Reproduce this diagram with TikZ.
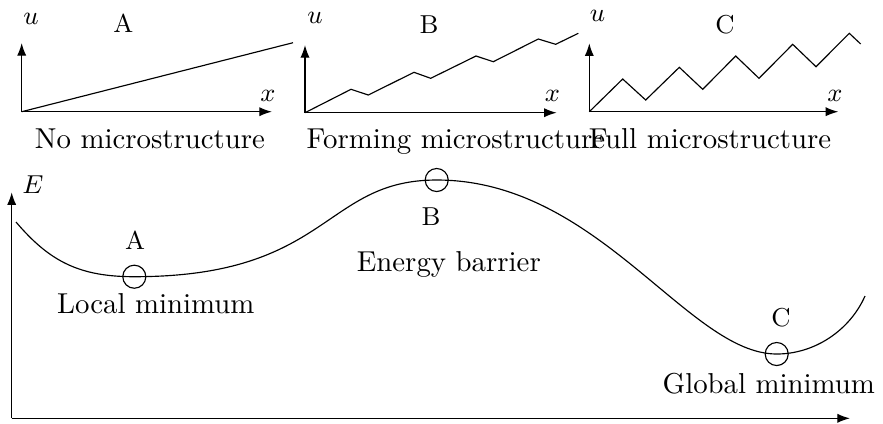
\documentclass[tikz,border=0pt]{standalone}
\usepackage{fontspec}
\usetikzlibrary{arrows.meta}
\begin{document}
\begin{tikzpicture}[x=0.3472pt,y=-0.3472pt,
  axis/.style={-{Latex[length=4.4pt,width=3.2pt]}, line width=0.45pt},
  curve/.style={line width=0.4pt},
  lbl/.style={anchor=base, inner sep=0pt, font=\fontsize{9}{11}\selectfont},
  captxt/.style={anchor=base, inner sep=0pt, font=\fontsize{10}{12}\selectfont},
  ring/.style={circle, draw, line width=0.4pt, minimum size=8pt, inner sep=0pt}]
\useasboundingbox (0,0) rectangle (883,423);
% ---- Plot A
\coordinate (oA) at (21.7,111.7);
\coordinate (yA) at (21.7,43);
\coordinate (xA) at (272,111.7);
\coordinate (eA) at (293,42.7);
\draw[axis] (oA) -- (yA);
\draw[axis] (oA) -- (xA);
\draw[curve] (oA) -- (eA);
\node[lbl] (uA) at (31,24) {$u$};
\node[lbl] (xAl) at (268,101.7) {$x$};
\node[lbl] (tA) at (123.3,32.3) {A};
\node[captxt] (capA) at (150,148.3) {No microstructure};
% ---- Plot B
\coordinate (oB) at (305,112.7);
\coordinate (yB) at (305,45);
\coordinate (xB) at (556.7,112.7);
\draw[axis] (oB) -- (yB);
\draw[axis] (oB) -- (xB);
\draw[curve] (oB) -- (351,89.3) -- (368.3,95) -- (414,72.3) -- (430.7,78.3)
  -- (476,56) -- (493.3,61.7) -- (538.3,39) -- (555.7,44.3) -- (578.3,33.3);
\node[lbl] (uB) at (315,23.3) {$u$};
\node[lbl] (xBl) at (552.5,101.7) {$x$};
\node[lbl] (tB) at (429,33.3) {B};
\node[captxt] (capB) at (456,148.3) {Forming microstructure};
% ---- Plot C
\coordinate (oC) at (589.3,111.7);
\coordinate (yC) at (589.3,43.3);
\coordinate (xC) at (838.3,111.7);
\draw[axis] (oC) -- (yC);
\draw[axis] (oC) -- (xC);
\draw[curve] (oC) -- (622.7,79) -- (645.7,100) -- (679.3,67.3) -- (702.7,89.3)
  -- (735.7,56) -- (759,78.3) -- (792.7,44.3) -- (816,66.7) -- (849.3,33.3) -- (860.7,44);
\node[lbl] (uC) at (597.5,21.7) {$u$};
\node[lbl] (xCl) at (835,101.7) {$x$};
\node[lbl] (tC) at (725,33.3) {C};
\node[captxt] (capC) at (710,148.3) {Full microstructure};
% ---- Energy landscape
\coordinate (oE) at (11.7,418.3);
\coordinate (yE) at (11.7,192.3);
\coordinate (xE) at (850,418.3);
\draw[axis] (oE) -- (yE);
\draw[axis] (oE) -- (xE);
\node[lbl] (El) at (33,193.3) {$E$};
\node[ring] (cA) at (134.3,276.7) {};
\node[ring] (cB) at (436.7,180) {};
\node[ring] (cC) at (776.7,354) {};
\draw[curve] (16,222) .. controls (50,262) and (80,276.7) .. (cA.center)
  .. controls (330,276.7) and (323,180) .. (cB.center)
  .. controls (598.6,180) and (688,354) .. (cC.center)
  .. controls (815,354) and (850,330) .. (865,296);
\node[lbl] (lA) at (135,249) {A};
\node[lbl] (lB) at (431,225) {B};
\node[lbl] (lC) at (781,326.7) {C};
\node[captxt] (nA) at (155.8,313.3) {Local minimum};
\node[captxt] (nB) at (448.8,271.7) {Energy barrier};
\node[captxt] (nC) at (768.8,393.3) {Global minimum};
\end{tikzpicture}
\end{document}
